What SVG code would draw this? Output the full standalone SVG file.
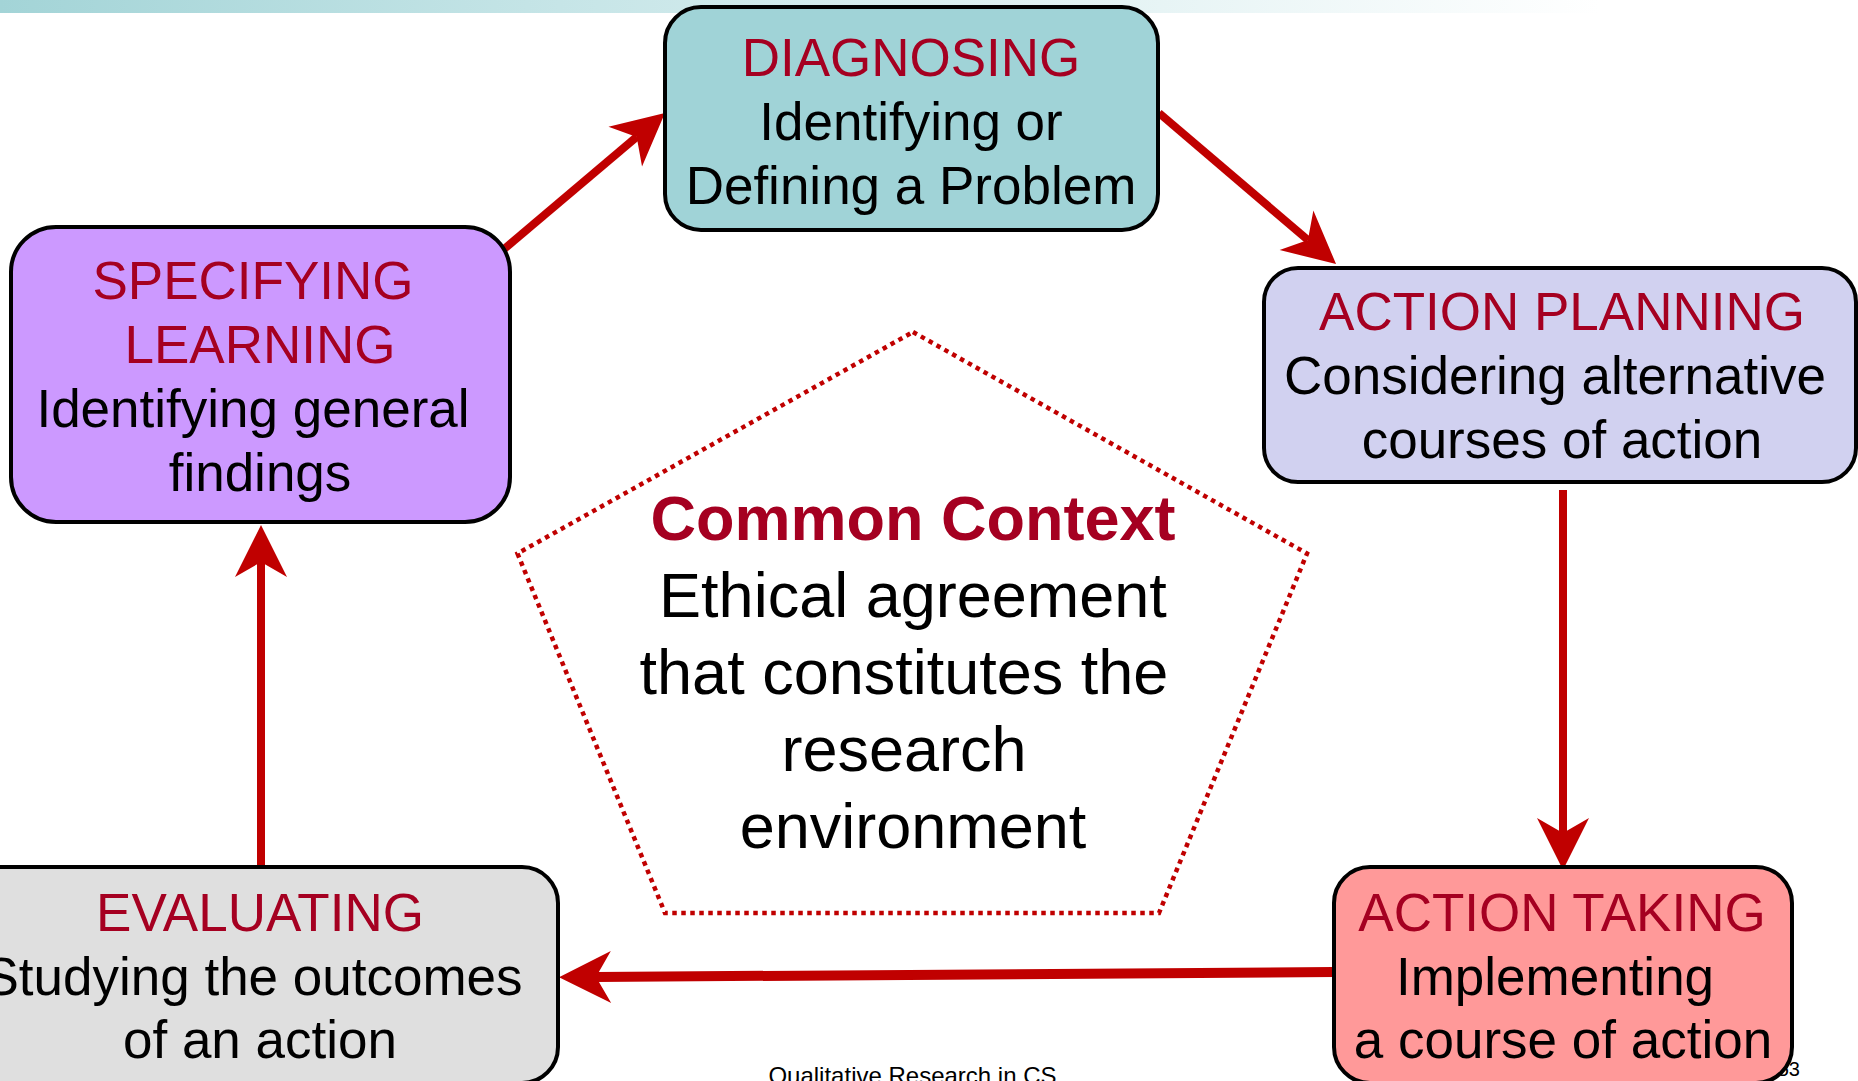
<svg xmlns="http://www.w3.org/2000/svg" width="1858" height="1081" viewBox="0 0 1858 1081">
<style>
.box{stroke:#000;stroke-width:4}
.t{font-family:"Liberation Sans",Arial,sans-serif;font-size:53px;text-anchor:middle}
.h{fill:#A50021}
.b{fill:#000}
.conn{fill:none;stroke:#C00000}
.cc{font-family:"Liberation Sans",Arial,sans-serif;font-size:63px;text-anchor:middle}
</style>
<defs>
<linearGradient id="bar" x1="0" y1="0" x2="1600" y2="0" gradientUnits="userSpaceOnUse">
<stop offset="0" stop-color="#A3D4D7"/>
<stop offset="0.35" stop-color="#C6E5E7"/>
<stop offset="1" stop-color="#FFFFFF"/>
</linearGradient>
<marker id="ah" markerUnits="userSpaceOnUse" markerWidth="80" markerHeight="80" viewBox="-20 -40 80 80" refX="0" refY="0" orient="auto" overflow="visible">
<path d="M37,0 L-15,-26 L0,0 L-15,26 Z" fill="#C00000"/>
</marker>
</defs>
<rect x="0" y="0" width="1600" height="13" fill="url(#bar)"/>
<g id="connectors">
<line class="conn" stroke-width="8" x1="503" y1="250" x2="636.7" y2="136.9" marker-end="url(#ah)"/>
<line class="conn" stroke-width="8" x1="1159" y1="113" x2="1307.9" y2="240" marker-end="url(#ah)"/>
<line class="conn" stroke-width="8" x1="1563" y1="490" x2="1563" y2="833" marker-end="url(#ah)"/>
<line class="conn" stroke-width="10" x1="1334" y1="972" x2="596" y2="977" marker-end="url(#ah)"/>
<line class="conn" stroke-width="8" x1="261" y1="867" x2="261" y2="562" marker-end="url(#ah)"/>
</g>
<g id="context">
<polygon points="913,332 1307,553.5 1159,913 665,913 517.5,553.5" fill="none" stroke="#C00000" stroke-width="4.5" stroke-dasharray="4.5 4.5"/>
<text class="cc h" x="913" y="540" font-weight="bold">Common Context</text>
<text class="cc b" x="913" y="617">Ethical agreement</text>
<text class="cc b" x="904" y="694">that constitutes the</text>
<text class="cc b" x="904" y="771">research</text>
<text class="cc b" x="913" y="848">environment</text>
</g>
<text x="912.5" y="1084" font-family="Liberation Sans, Arial, sans-serif" font-size="24" text-anchor="middle" fill="#000">Qualitative Research in CS</text>
<text x="1800" y="1076" font-family="Liberation Sans, Arial, sans-serif" font-size="20" text-anchor="end" fill="#000">53</text>
<g id="diagnosing">
<rect class="box" x="665" y="7" width="493" height="223" rx="36" fill="#A0D3D7"/>
<text class="t h" x="911" y="76">DIAGNOSING</text>
<text class="t b" x="911" y="140">Identifying or</text>
<text class="t b" x="911" y="204">Defining a Problem</text>
</g>
<g id="specifying">
<rect class="box" x="11" y="227" width="499" height="295" rx="45" fill="#CC99FF"/>
<text class="t h" x="253" y="299">SPECIFYING</text>
<text class="t h" x="260" y="363">LEARNING</text>
<text class="t b" x="253" y="427">Identifying general</text>
<text class="t b" x="260" y="491">findings</text>
</g>
<g id="planning">
<rect class="box" x="1264" y="268" width="592" height="214" rx="34" fill="#D1D1F0"/>
<text class="t h" x="1562" y="330">ACTION PLANNING</text>
<text class="t b" x="1555" y="394">Considering alternative</text>
<text class="t b" x="1562" y="458">courses of action</text>
</g>
<g id="taking">
<rect class="box" x="1334" y="867" width="458" height="216" rx="36" fill="#FF9999"/>
<text class="t h" x="1562" y="931">ACTION TAKING</text>
<text class="t b" x="1555" y="995">Implementing</text>
<text class="t b" x="1563" y="1058">a course of action</text>
</g>
<g id="evaluating">
<rect class="box" x="-38" y="867" width="596" height="216" rx="36" fill="#DFDFDF"/>
<text class="t h" x="260" y="931">EVALUATING</text>
<text class="t b" x="253" y="995">Studying the outcomes</text>
<text class="t b" x="260" y="1058">of an action</text>
</g>
</svg>
